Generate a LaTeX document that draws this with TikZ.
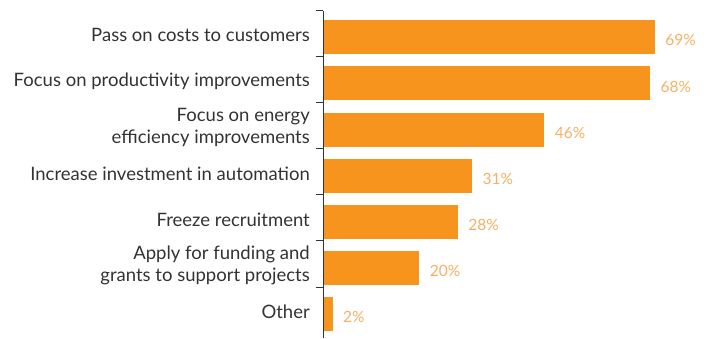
\documentclass[tikz,border=0pt]{standalone}
\usepackage{fontspec}
\setmainfont{Lato}
\usepackage{tikz}
\usetikzlibrary{positioning}
\definecolor{barorange}{HTML}{F7941D}
\definecolor{pctorange}{HTML}{F6B064}
\definecolor{labelgrey}{HTML}{333333}

\begin{document}
\begin{tikzpicture}[x=1pt,y=-1pt,
        bar/.style={fill=barorange, draw=none, inner sep=0pt, anchor=north west,
                    minimum height=34pt},
        pct/.style={text=pctorange, font=\fontsize{15.5}{18}\selectfont, inner sep=0pt},
        cat/.style={text=labelgrey, font=\fontsize{18.5}{22}\selectfont, align=right,
                    inner sep=0pt},
        axis/.style={draw=labelgrey, line width=1pt}]
    \useasboundingbox (0,0) rectangle (710,338);
    \foreach \val/\txt [count=\i] in {69/Pass on costs to customers,
                                     68/Focus on productivity improvements,
                                     46/{Focus on energy\\efficiency improvements},
                                     31/Increase investment in automation,
                                     28/Freeze recruitment,
                                     20/{Apply for funding and\\grants to support projects},
                                     2/Other}
    {
        \pgfmathsetmacro\top{10.7+46.05*(\i-1)}
        \pgfmathsetmacro\len{4.81*\val}
        \node (bar\i) [bar, minimum width=\len pt] at (323,\top+9.5) {};
        \node (pct\i) [pct, right=10pt of bar\i.east, yshift=-3pt] {\val\%};
        \node (cat\i) [cat, left=13pt of bar\i.west, yshift=2pt] {\txt};
        \draw[axis] (316,\top) -- (323,\top);
    }
    \draw[axis] (323,10.7) -- (323,338);
\end{tikzpicture}
\end{document}
